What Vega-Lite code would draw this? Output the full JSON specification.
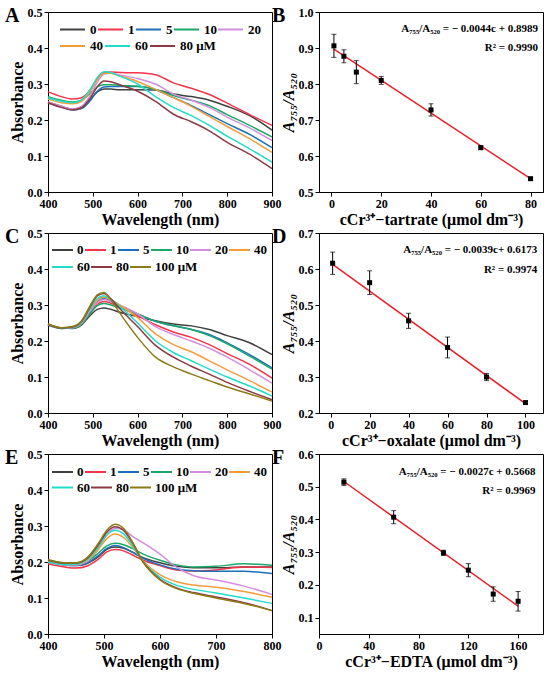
{
  "$schema": "https://vega.github.io/schema/vega-lite/v6.json",
  "padding": {"top": 5, "left": 4, "right": 0, "bottom": 0},
  "background": "white",
  "config": {
    "font": "Liberation Serif",
    "view": {"stroke": "black", "strokeWidth": 1},
    "axis": {
      "grid": false,
      "labelFont": "Liberation Serif",
      "labelFontSize": 12,
      "labelFontWeight": "bold",
      "labelColor": "black",
      "labelFlush": false,
      "labelOverlap": false,
      "labelPadding": 2,
      "titleFont": "Liberation Serif",
      "titleFontSize": 16,
      "titleFontWeight": "bold",
      "titleColor": "black",
      "titlePadding": 2,
      "domainColor": "black",
      "tickColor": "black",
      "tickSize": 4
    },
    "legend": {
      "orient": "none",
      "direction": "horizontal",
      "labelFont": "Liberation Serif",
      "labelFontSize": 13,
      "labelFontWeight": "bold",
      "labelColor": "black",
      "symbolType": "stroke",
      "symbolStrokeWidth": 2,
      "clipHeight": 14,
      "title": null
    },
    "title": {
      "font": "Liberation Serif",
      "fontSize": 20,
      "fontWeight": "bold",
      "color": "black",
      "anchor": "start",
      "frame": "bounds",
      "offset": -20,
      "dx": -4
    },
    "text": {"font": "Liberation Serif", "fontSize": 11, "fontWeight": "bold", "align": "right", "color": "black"}
  },
  "columns": 2,
  "spacing": {"row": 41, "column": 47},
  "bounds": "flush",
  "resolve": {"scale": {"color": "independent", "stroke": "independent"}},
  "datasets": {
    "spectra": [
      {"p":"A","c":"0","w":400,"a":0.250},{"p":"A","c":"0","w":430,"a":0.238},{"p":"A","c":"0","w":455,"a":0.230},{"p":"A","c":"0","w":475,"a":0.236},{"p":"A","c":"0","w":495,"a":0.258},{"p":"A","c":"0","w":510,"a":0.278},{"p":"A","c":"0","w":525,"a":0.286},{"p":"A","c":"0","w":540,"a":0.286},{"p":"A","c":"0","w":560,"a":0.284},{"p":"A","c":"0","w":600,"a":0.284},{"p":"A","c":"0","w":640,"a":0.283},{"p":"A","c":"0","w":680,"a":0.272},{"p":"A","c":"0","w":720,"a":0.265},{"p":"A","c":"0","w":760,"a":0.255},{"p":"A","c":"0","w":800,"a":0.238},{"p":"A","c":"0","w":850,"a":0.212},{"p":"A","c":"0","w":900,"a":0.172},
      {"p":"A","c":"1","w":400,"a":0.278},{"p":"A","c":"1","w":430,"a":0.265},{"p":"A","c":"1","w":455,"a":0.258},{"p":"A","c":"1","w":475,"a":0.262},{"p":"A","c":"1","w":495,"a":0.285},{"p":"A","c":"1","w":510,"a":0.315},{"p":"A","c":"1","w":525,"a":0.332},{"p":"A","c":"1","w":540,"a":0.333},{"p":"A","c":"1","w":560,"a":0.332},{"p":"A","c":"1","w":600,"a":0.331},{"p":"A","c":"1","w":640,"a":0.326},{"p":"A","c":"1","w":680,"a":0.303},{"p":"A","c":"1","w":720,"a":0.288},{"p":"A","c":"1","w":760,"a":0.271},{"p":"A","c":"1","w":800,"a":0.247},{"p":"A","c":"1","w":850,"a":0.215},{"p":"A","c":"1","w":900,"a":0.185},
      {"p":"A","c":"5","w":400,"a":0.248},{"p":"A","c":"5","w":430,"a":0.236},{"p":"A","c":"5","w":455,"a":0.228},{"p":"A","c":"5","w":475,"a":0.232},{"p":"A","c":"5","w":495,"a":0.255},{"p":"A","c":"5","w":510,"a":0.280},{"p":"A","c":"5","w":525,"a":0.292},{"p":"A","c":"5","w":540,"a":0.293},{"p":"A","c":"5","w":560,"a":0.293},{"p":"A","c":"5","w":600,"a":0.293},{"p":"A","c":"5","w":640,"a":0.284},{"p":"A","c":"5","w":680,"a":0.262},{"p":"A","c":"5","w":720,"a":0.240},{"p":"A","c":"5","w":760,"a":0.215},{"p":"A","c":"5","w":800,"a":0.190},{"p":"A","c":"5","w":850,"a":0.160},{"p":"A","c":"5","w":900,"a":0.123},
      {"p":"A","c":"10","w":400,"a":0.265},{"p":"A","c":"10","w":430,"a":0.255},{"p":"A","c":"10","w":455,"a":0.250},{"p":"A","c":"10","w":475,"a":0.255},{"p":"A","c":"10","w":495,"a":0.275},{"p":"A","c":"10","w":510,"a":0.292},{"p":"A","c":"10","w":525,"a":0.298},{"p":"A","c":"10","w":540,"a":0.298},{"p":"A","c":"10","w":560,"a":0.296},{"p":"A","c":"10","w":600,"a":0.294},{"p":"A","c":"10","w":640,"a":0.285},{"p":"A","c":"10","w":680,"a":0.268},{"p":"A","c":"10","w":720,"a":0.255},{"p":"A","c":"10","w":760,"a":0.240},{"p":"A","c":"10","w":800,"a":0.215},{"p":"A","c":"10","w":850,"a":0.185},{"p":"A","c":"10","w":900,"a":0.153},
      {"p":"A","c":"20","w":400,"a":0.250},{"p":"A","c":"20","w":430,"a":0.238},{"p":"A","c":"20","w":455,"a":0.230},{"p":"A","c":"20","w":475,"a":0.238},{"p":"A","c":"20","w":495,"a":0.270},{"p":"A","c":"20","w":510,"a":0.305},{"p":"A","c":"20","w":525,"a":0.328},{"p":"A","c":"20","w":540,"a":0.330},{"p":"A","c":"20","w":560,"a":0.325},{"p":"A","c":"20","w":600,"a":0.315},{"p":"A","c":"20","w":640,"a":0.300},{"p":"A","c":"20","w":680,"a":0.272},{"p":"A","c":"20","w":720,"a":0.255},{"p":"A","c":"20","w":760,"a":0.235},{"p":"A","c":"20","w":800,"a":0.208},{"p":"A","c":"20","w":850,"a":0.178},{"p":"A","c":"20","w":900,"a":0.143},
      {"p":"A","c":"40","w":400,"a":0.258},{"p":"A","c":"40","w":430,"a":0.248},{"p":"A","c":"40","w":455,"a":0.245},{"p":"A","c":"40","w":475,"a":0.252},{"p":"A","c":"40","w":495,"a":0.280},{"p":"A","c":"40","w":510,"a":0.312},{"p":"A","c":"40","w":525,"a":0.330},{"p":"A","c":"40","w":540,"a":0.330},{"p":"A","c":"40","w":560,"a":0.322},{"p":"A","c":"40","w":600,"a":0.307},{"p":"A","c":"40","w":640,"a":0.285},{"p":"A","c":"40","w":680,"a":0.262},{"p":"A","c":"40","w":720,"a":0.238},{"p":"A","c":"40","w":760,"a":0.210},{"p":"A","c":"40","w":800,"a":0.182},{"p":"A","c":"40","w":850,"a":0.148},{"p":"A","c":"40","w":900,"a":0.110},
      {"p":"A","c":"60","w":400,"a":0.262},{"p":"A","c":"60","w":430,"a":0.252},{"p":"A","c":"60","w":455,"a":0.248},{"p":"A","c":"60","w":475,"a":0.256},{"p":"A","c":"60","w":495,"a":0.286},{"p":"A","c":"60","w":510,"a":0.318},{"p":"A","c":"60","w":525,"a":0.334},{"p":"A","c":"60","w":540,"a":0.332},{"p":"A","c":"60","w":560,"a":0.322},{"p":"A","c":"60","w":600,"a":0.300},{"p":"A","c":"60","w":640,"a":0.265},{"p":"A","c":"60","w":680,"a":0.235},{"p":"A","c":"60","w":720,"a":0.212},{"p":"A","c":"60","w":760,"a":0.185},{"p":"A","c":"60","w":800,"a":0.155},{"p":"A","c":"60","w":850,"a":0.120},{"p":"A","c":"60","w":900,"a":0.083},
      {"p":"A","c":"80","w":400,"a":0.248},{"p":"A","c":"80","w":430,"a":0.235},{"p":"A","c":"80","w":455,"a":0.228},{"p":"A","c":"80","w":475,"a":0.234},{"p":"A","c":"80","w":495,"a":0.262},{"p":"A","c":"80","w":510,"a":0.292},{"p":"A","c":"80","w":525,"a":0.308},{"p":"A","c":"80","w":540,"a":0.306},{"p":"A","c":"80","w":560,"a":0.298},{"p":"A","c":"80","w":600,"a":0.280},{"p":"A","c":"80","w":640,"a":0.252},{"p":"A","c":"80","w":680,"a":0.216},{"p":"A","c":"80","w":720,"a":0.195},{"p":"A","c":"80","w":760,"a":0.170},{"p":"A","c":"80","w":800,"a":0.138},{"p":"A","c":"80","w":850,"a":0.105},{"p":"A","c":"80","w":900,"a":0.065},

      {"p":"C","c":"0","w":400,"a":0.245},{"p":"C","c":"0","w":430,"a":0.236},{"p":"C","c":"0","w":455,"a":0.235},{"p":"C","c":"0","w":475,"a":0.245},{"p":"C","c":"0","w":495,"a":0.272},{"p":"C","c":"0","w":510,"a":0.288},{"p":"C","c":"0","w":525,"a":0.292},{"p":"C","c":"0","w":540,"a":0.288},{"p":"C","c":"0","w":560,"a":0.280},{"p":"C","c":"0","w":600,"a":0.268},{"p":"C","c":"0","w":640,"a":0.256},{"p":"C","c":"0","w":680,"a":0.247},{"p":"C","c":"0","w":720,"a":0.242},{"p":"C","c":"0","w":760,"a":0.232},{"p":"C","c":"0","w":800,"a":0.215},{"p":"C","c":"0","w":850,"a":0.195},{"p":"C","c":"0","w":900,"a":0.162},
      {"p":"C","c":"1","w":400,"a":0.245},{"p":"C","c":"1","w":430,"a":0.236},{"p":"C","c":"1","w":455,"a":0.236},{"p":"C","c":"1","w":475,"a":0.248},{"p":"C","c":"1","w":495,"a":0.280},{"p":"C","c":"1","w":510,"a":0.302},{"p":"C","c":"1","w":525,"a":0.310},{"p":"C","c":"1","w":540,"a":0.305},{"p":"C","c":"1","w":560,"a":0.295},{"p":"C","c":"1","w":600,"a":0.270},{"p":"C","c":"1","w":640,"a":0.245},{"p":"C","c":"1","w":680,"a":0.225},{"p":"C","c":"1","w":720,"a":0.210},{"p":"C","c":"1","w":760,"a":0.190},{"p":"C","c":"1","w":800,"a":0.165},{"p":"C","c":"1","w":850,"a":0.135},{"p":"C","c":"1","w":900,"a":0.097},
      {"p":"C","c":"5","w":400,"a":0.244},{"p":"C","c":"5","w":430,"a":0.235},{"p":"C","c":"5","w":455,"a":0.236},{"p":"C","c":"5","w":475,"a":0.250},{"p":"C","c":"5","w":495,"a":0.285},{"p":"C","c":"5","w":510,"a":0.310},{"p":"C","c":"5","w":525,"a":0.318},{"p":"C","c":"5","w":540,"a":0.310},{"p":"C","c":"5","w":560,"a":0.298},{"p":"C","c":"5","w":600,"a":0.275},{"p":"C","c":"5","w":640,"a":0.255},{"p":"C","c":"5","w":680,"a":0.242},{"p":"C","c":"5","w":720,"a":0.232},{"p":"C","c":"5","w":760,"a":0.218},{"p":"C","c":"5","w":800,"a":0.195},{"p":"C","c":"5","w":850,"a":0.162},{"p":"C","c":"5","w":900,"a":0.125},
      {"p":"C","c":"10","w":400,"a":0.246},{"p":"C","c":"10","w":430,"a":0.237},{"p":"C","c":"10","w":455,"a":0.236},{"p":"C","c":"10","w":475,"a":0.247},{"p":"C","c":"10","w":495,"a":0.278},{"p":"C","c":"10","w":510,"a":0.298},{"p":"C","c":"10","w":525,"a":0.304},{"p":"C","c":"10","w":540,"a":0.300},{"p":"C","c":"10","w":560,"a":0.292},{"p":"C","c":"10","w":600,"a":0.275},{"p":"C","c":"10","w":640,"a":0.255},{"p":"C","c":"10","w":680,"a":0.243},{"p":"C","c":"10","w":720,"a":0.232},{"p":"C","c":"10","w":760,"a":0.215},{"p":"C","c":"10","w":800,"a":0.192},{"p":"C","c":"10","w":850,"a":0.158},{"p":"C","c":"10","w":900,"a":0.122},
      {"p":"C","c":"20","w":400,"a":0.245},{"p":"C","c":"20","w":430,"a":0.236},{"p":"C","c":"20","w":455,"a":0.237},{"p":"C","c":"20","w":475,"a":0.250},{"p":"C","c":"20","w":495,"a":0.285},{"p":"C","c":"20","w":510,"a":0.307},{"p":"C","c":"20","w":525,"a":0.315},{"p":"C","c":"20","w":540,"a":0.310},{"p":"C","c":"20","w":560,"a":0.300},{"p":"C","c":"20","w":600,"a":0.275},{"p":"C","c":"20","w":640,"a":0.240},{"p":"C","c":"20","w":680,"a":0.218},{"p":"C","c":"20","w":720,"a":0.200},{"p":"C","c":"20","w":760,"a":0.180},{"p":"C","c":"20","w":800,"a":0.155},{"p":"C","c":"20","w":850,"a":0.120},{"p":"C","c":"20","w":900,"a":0.083},
      {"p":"C","c":"40","w":400,"a":0.246},{"p":"C","c":"40","w":430,"a":0.236},{"p":"C","c":"40","w":455,"a":0.238},{"p":"C","c":"40","w":475,"a":0.252},{"p":"C","c":"40","w":495,"a":0.290},{"p":"C","c":"40","w":510,"a":0.313},{"p":"C","c":"40","w":525,"a":0.322},{"p":"C","c":"40","w":540,"a":0.315},{"p":"C","c":"40","w":560,"a":0.300},{"p":"C","c":"40","w":600,"a":0.265},{"p":"C","c":"40","w":640,"a":0.220},{"p":"C","c":"40","w":680,"a":0.190},{"p":"C","c":"40","w":720,"a":0.170},{"p":"C","c":"40","w":760,"a":0.145},{"p":"C","c":"40","w":800,"a":0.120},{"p":"C","c":"40","w":850,"a":0.090},{"p":"C","c":"40","w":900,"a":0.058},
      {"p":"C","c":"60","w":400,"a":0.245},{"p":"C","c":"60","w":430,"a":0.235},{"p":"C","c":"60","w":455,"a":0.238},{"p":"C","c":"60","w":475,"a":0.253},{"p":"C","c":"60","w":495,"a":0.292},{"p":"C","c":"60","w":510,"a":0.318},{"p":"C","c":"60","w":525,"a":0.326},{"p":"C","c":"60","w":540,"a":0.316},{"p":"C","c":"60","w":560,"a":0.296},{"p":"C","c":"60","w":600,"a":0.250},{"p":"C","c":"60","w":640,"a":0.200},{"p":"C","c":"60","w":680,"a":0.168},{"p":"C","c":"60","w":720,"a":0.145},{"p":"C","c":"60","w":760,"a":0.122},{"p":"C","c":"60","w":800,"a":0.100},{"p":"C","c":"60","w":850,"a":0.075},{"p":"C","c":"60","w":900,"a":0.047},
      {"p":"C","c":"80","w":400,"a":0.246},{"p":"C","c":"80","w":430,"a":0.236},{"p":"C","c":"80","w":455,"a":0.239},{"p":"C","c":"80","w":475,"a":0.255},{"p":"C","c":"80","w":495,"a":0.297},{"p":"C","c":"80","w":510,"a":0.325},{"p":"C","c":"80","w":525,"a":0.332},{"p":"C","c":"80","w":540,"a":0.318},{"p":"C","c":"80","w":560,"a":0.290},{"p":"C","c":"80","w":600,"a":0.240},{"p":"C","c":"80","w":640,"a":0.188},{"p":"C","c":"80","w":680,"a":0.155},{"p":"C","c":"80","w":720,"a":0.130},{"p":"C","c":"80","w":760,"a":0.108},{"p":"C","c":"80","w":800,"a":0.085},{"p":"C","c":"80","w":850,"a":0.060},{"p":"C","c":"80","w":900,"a":0.037},
      {"p":"C","c":"100","w":400,"a":0.248},{"p":"C","c":"100","w":430,"a":0.237},{"p":"C","c":"100","w":455,"a":0.240},{"p":"C","c":"100","w":475,"a":0.256},{"p":"C","c":"100","w":495,"a":0.300},{"p":"C","c":"100","w":510,"a":0.328},{"p":"C","c":"100","w":525,"a":0.335},{"p":"C","c":"100","w":540,"a":0.315},{"p":"C","c":"100","w":560,"a":0.278},{"p":"C","c":"100","w":600,"a":0.210},{"p":"C","c":"100","w":640,"a":0.155},{"p":"C","c":"100","w":680,"a":0.128},{"p":"C","c":"100","w":720,"a":0.108},{"p":"C","c":"100","w":760,"a":0.090},{"p":"C","c":"100","w":800,"a":0.072},{"p":"C","c":"100","w":850,"a":0.053},{"p":"C","c":"100","w":900,"a":0.033},

      {"p":"E","c":"0","w":400,"a":0.200},{"p":"E","c":"0","w":430,"a":0.192},{"p":"E","c":"0","w":450,"a":0.190},{"p":"E","c":"0","w":470,"a":0.196},{"p":"E","c":"0","w":490,"a":0.215},{"p":"E","c":"0","w":505,"a":0.235},{"p":"E","c":"0","w":520,"a":0.242},{"p":"E","c":"0","w":535,"a":0.238},{"p":"E","c":"0","w":550,"a":0.228},{"p":"E","c":"0","w":570,"a":0.212},{"p":"E","c":"0","w":600,"a":0.198},{"p":"E","c":"0","w":630,"a":0.188},{"p":"E","c":"0","w":660,"a":0.184},{"p":"E","c":"0","w":700,"a":0.184},{"p":"E","c":"0","w":750,"a":0.186},{"p":"E","c":"0","w":800,"a":0.186},
      {"p":"E","c":"1","w":400,"a":0.195},{"p":"E","c":"1","w":430,"a":0.186},{"p":"E","c":"1","w":450,"a":0.183},{"p":"E","c":"1","w":470,"a":0.189},{"p":"E","c":"1","w":490,"a":0.208},{"p":"E","c":"1","w":505,"a":0.228},{"p":"E","c":"1","w":520,"a":0.235},{"p":"E","c":"1","w":535,"a":0.231},{"p":"E","c":"1","w":550,"a":0.220},{"p":"E","c":"1","w":570,"a":0.205},{"p":"E","c":"1","w":600,"a":0.190},{"p":"E","c":"1","w":630,"a":0.178},{"p":"E","c":"1","w":660,"a":0.175},{"p":"E","c":"1","w":700,"a":0.178},{"p":"E","c":"1","w":750,"a":0.186},{"p":"E","c":"1","w":800,"a":0.185},
      {"p":"E","c":"5","w":400,"a":0.200},{"p":"E","c":"5","w":430,"a":0.192},{"p":"E","c":"5","w":450,"a":0.190},{"p":"E","c":"5","w":470,"a":0.197},{"p":"E","c":"5","w":490,"a":0.218},{"p":"E","c":"5","w":505,"a":0.238},{"p":"E","c":"5","w":520,"a":0.246},{"p":"E","c":"5","w":535,"a":0.240},{"p":"E","c":"5","w":550,"a":0.228},{"p":"E","c":"5","w":570,"a":0.210},{"p":"E","c":"5","w":600,"a":0.192},{"p":"E","c":"5","w":630,"a":0.180},{"p":"E","c":"5","w":660,"a":0.176},{"p":"E","c":"5","w":700,"a":0.174},{"p":"E","c":"5","w":750,"a":0.174},{"p":"E","c":"5","w":800,"a":0.168},
      {"p":"E","c":"10","w":400,"a":0.205},{"p":"E","c":"10","w":430,"a":0.197},{"p":"E","c":"10","w":450,"a":0.195},{"p":"E","c":"10","w":470,"a":0.202},{"p":"E","c":"10","w":490,"a":0.225},{"p":"E","c":"10","w":505,"a":0.245},{"p":"E","c":"10","w":520,"a":0.252},{"p":"E","c":"10","w":535,"a":0.248},{"p":"E","c":"10","w":550,"a":0.238},{"p":"E","c":"10","w":570,"a":0.222},{"p":"E","c":"10","w":600,"a":0.205},{"p":"E","c":"10","w":630,"a":0.192},{"p":"E","c":"10","w":660,"a":0.186},{"p":"E","c":"10","w":700,"a":0.188},{"p":"E","c":"10","w":750,"a":0.195},{"p":"E","c":"10","w":800,"a":0.191},
      {"p":"E","c":"20","w":400,"a":0.200},{"p":"E","c":"20","w":430,"a":0.192},{"p":"E","c":"20","w":450,"a":0.192},{"p":"E","c":"20","w":470,"a":0.202},{"p":"E","c":"20","w":490,"a":0.238},{"p":"E","c":"20","w":505,"a":0.275},{"p":"E","c":"20","w":520,"a":0.294},{"p":"E","c":"20","w":535,"a":0.290},{"p":"E","c":"20","w":550,"a":0.272},{"p":"E","c":"20","w":570,"a":0.253},{"p":"E","c":"20","w":600,"a":0.222},{"p":"E","c":"20","w":630,"a":0.185},{"p":"E","c":"20","w":660,"a":0.162},{"p":"E","c":"20","w":700,"a":0.150},{"p":"E","c":"20","w":750,"a":0.133},{"p":"E","c":"20","w":800,"a":0.110},
      {"p":"E","c":"40","w":400,"a":0.200},{"p":"E","c":"40","w":430,"a":0.193},{"p":"E","c":"40","w":450,"a":0.193},{"p":"E","c":"40","w":470,"a":0.205},{"p":"E","c":"40","w":490,"a":0.235},{"p":"E","c":"40","w":505,"a":0.265},{"p":"E","c":"40","w":520,"a":0.278},{"p":"E","c":"40","w":535,"a":0.268},{"p":"E","c":"40","w":550,"a":0.243},{"p":"E","c":"40","w":570,"a":0.203},{"p":"E","c":"40","w":600,"a":0.165},{"p":"E","c":"40","w":630,"a":0.145},{"p":"E","c":"40","w":660,"a":0.136},{"p":"E","c":"40","w":700,"a":0.130},{"p":"E","c":"40","w":750,"a":0.118},{"p":"E","c":"40","w":800,"a":0.102},
      {"p":"E","c":"60","w":400,"a":0.200},{"p":"E","c":"60","w":430,"a":0.193},{"p":"E","c":"60","w":450,"a":0.194},{"p":"E","c":"60","w":470,"a":0.207},{"p":"E","c":"60","w":490,"a":0.242},{"p":"E","c":"60","w":505,"a":0.275},{"p":"E","c":"60","w":520,"a":0.288},{"p":"E","c":"60","w":535,"a":0.278},{"p":"E","c":"60","w":550,"a":0.248},{"p":"E","c":"60","w":570,"a":0.200},{"p":"E","c":"60","w":600,"a":0.158},{"p":"E","c":"60","w":630,"a":0.135},{"p":"E","c":"60","w":660,"a":0.124},{"p":"E","c":"60","w":700,"a":0.114},{"p":"E","c":"60","w":750,"a":0.100},{"p":"E","c":"60","w":800,"a":0.085},
      {"p":"E","c":"80","w":400,"a":0.205},{"p":"E","c":"80","w":430,"a":0.197},{"p":"E","c":"80","w":450,"a":0.197},{"p":"E","c":"80","w":470,"a":0.210},{"p":"E","c":"80","w":490,"a":0.248},{"p":"E","c":"80","w":505,"a":0.283},{"p":"E","c":"80","w":520,"a":0.298},{"p":"E","c":"80","w":535,"a":0.288},{"p":"E","c":"80","w":550,"a":0.255},{"p":"E","c":"80","w":570,"a":0.200},{"p":"E","c":"80","w":600,"a":0.152},{"p":"E","c":"80","w":630,"a":0.128},{"p":"E","c":"80","w":660,"a":0.115},{"p":"E","c":"80","w":700,"a":0.103},{"p":"E","c":"80","w":750,"a":0.087},{"p":"E","c":"80","w":800,"a":0.065},
      {"p":"E","c":"100","w":400,"a":0.207},{"p":"E","c":"100","w":430,"a":0.198},{"p":"E","c":"100","w":450,"a":0.198},{"p":"E","c":"100","w":470,"a":0.212},{"p":"E","c":"100","w":490,"a":0.252},{"p":"E","c":"100","w":505,"a":0.288},{"p":"E","c":"100","w":520,"a":0.305},{"p":"E","c":"100","w":535,"a":0.293},{"p":"E","c":"100","w":550,"a":0.258},{"p":"E","c":"100","w":570,"a":0.200},{"p":"E","c":"100","w":600,"a":0.150},{"p":"E","c":"100","w":630,"a":0.126},{"p":"E","c":"100","w":660,"a":0.113},{"p":"E","c":"100","w":700,"a":0.100},{"p":"E","c":"100","w":750,"a":0.085},{"p":"E","c":"100","w":800,"a":0.065}
    ],
    "points": [
      {"p":"B","c":1,"r":0.906,"e":0.032},{"p":"B","c":5,"r":0.877,"e":0.018},{"p":"B","c":10,"r":0.833,"e":0.032},{"p":"B","c":20,"r":0.810,"e":0.011},{"p":"B","c":40,"r":0.728,"e":0.017},{"p":"B","c":60,"r":0.623,"e":0.005},{"p":"B","c":80,"r":0.537,"e":0.003},
      {"p":"D","c":1,"r":0.616,"e":0.031},{"p":"D","c":20,"r":0.562,"e":0.033},{"p":"D","c":40,"r":0.456,"e":0.021},{"p":"D","c":60,"r":0.382,"e":0.029},{"p":"D","c":80,"r":0.300,"e":0.010},{"p":"D","c":100,"r":0.229,"e":0.004},
      {"p":"F","c":20,"r":0.514,"e":0.010},{"p":"F","c":60,"r":0.407,"e":0.020},{"p":"F","c":100,"r":0.298,"e":0.008},{"p":"F","c":120,"r":0.245,"e":0.020},{"p":"F","c":140,"r":0.172,"e":0.022},{"p":"F","c":160,"r":0.150,"e":0.030}
    ],
    "fits": [
      {"p":"B","c":1,"r":0.897},{"p":"B","c":80,"r":0.537},
      {"p":"D","c":1,"r":0.613},{"p":"D","c":100,"r":0.226},
      {"p":"F","c":20,"r":0.516},{"p":"F","c":160,"r":0.135}
    ],
    "notes": [
      {"p":"B","eq":"A₇₅₅/A₅₂₀ = − 0.0044c + 0.8989","r2":"R² = 0.9990"},
      {"p":"D","eq":"A₇₅₅/A₅₂₀ = − 0.0039c+ 0.6173","r2":"R² = 0.9974"},
      {"p":"F","eq":"A₇₅₅/A₅₂₀ = − 0.0027c + 0.5668","r2":"R² = 0.9969"}
    ]
  },
  "concat": [
    {
      "width": 224, "height": 180,
      "title": {"text": "A"},
      "data": {"name": "spectra"},
      "encoding": {
        "x": {"field": "w", "type": "quantitative", "scale": {"domain": [400, 900], "nice": false}, "axis": {"values": [400, 500, 600, 700, 800, 900], "title": "Wavelength (nm)"}},
        "y": {"field": "a", "type": "quantitative", "scale": {"domain": [0, 0.5], "nice": false}, "axis": {"values": [0, 0.1, 0.2, 0.3, 0.4, 0.5], "format": ".1f", "title": "Absorbance"}}
      },
      "layer": [
        {
          "transform": [{"filter": "datum.p == 'A' && indexof(['0','1','5','10','20'], datum.c) >= 0"}],
          "mark": {"type": "line", "interpolate": "monotone", "strokeWidth": 1.5},
          "encoding": {
            "color": {"field": "c", "type": "nominal",
              "scale": {"domain": ["0", "1", "5", "10", "20"], "range": ["#404040", "#f5334a", "#1f6fb8", "#18a868", "#d48ee0"]},
              "legend": {"legendX": 11, "legendY": 10.5, "symbolSize": 625, "labelOffset": 4, "columnPadding": 0}}
          }
        },
        {
          "transform": [{"filter": "datum.p == 'A' && indexof(['40','60','80'], datum.c) >= 0"}],
          "mark": {"type": "line", "interpolate": "monotone", "strokeWidth": 1.5},
          "encoding": {
            "stroke": {"field": "c", "type": "nominal",
              "scale": {"domain": ["40", "60", "80"], "range": ["#f39c3c", "#22dcc8", "#8c3a44"]},
              "legend": {"legendX": 11, "legendY": 27, "symbolSize": 625, "labelOffset": 4, "columnPadding": 1, "labelExpr": "datum.label == '80' ? '80 μM' : datum.label"}}
          }
        }
      ]
    },
    {
      "width": 224, "height": 180,
      "title": {"text": "B", "dx": -8},
      "layer": [
        {
          "data": {"name": "fits"},
          "transform": [{"filter": "datum.p == 'B'"}],
          "mark": {"type": "line", "color": "#e8202a", "strokeWidth": 1.5},
          "encoding": {
            "x": {"field": "c", "type": "quantitative", "scale": {"domain": [-5, 85], "nice": false}, "axis": {"values": [0, 20, 40, 60, 80], "title": "cCr³⁺−tartrate (μmol dm⁻³)"}},
            "y": {"field": "r", "type": "quantitative", "scale": {"domain": [0.5, 1.0], "nice": false, "zero": false}, "axis": {"values": [0.5, 0.6, 0.7, 0.8, 0.9, 1.0], "format": ".1f", "title": "A₇₅₅/A₅₂₀", "titleFontStyle": "italic"}}
          }
        },
        {
          "data": {"name": "points"},
          "transform": [{"filter": "datum.p == 'B'"}],
          "mark": {"type": "errorbar", "ticks": {"size": 5, "color": "black"}, "color": "black"},
          "encoding": {
            "x": {"field": "c", "type": "quantitative", "axis": {"values": [0, 20, 40, 60, 80], "title": "cCr³⁺−tartrate (μmol dm⁻³)"}},
            "y": {"field": "r", "type": "quantitative", "axis": {"values": [0.5, 0.6, 0.7, 0.8, 0.9, 1.0], "format": ".1f", "title": "A₇₅₅/A₅₂₀", "titleFontStyle": "italic"}},
            "yError": {"field": "e"}
          }
        },
        {
          "data": {"name": "points"},
          "transform": [{"filter": "datum.p == 'B'"}],
          "mark": {"type": "square", "size": 25, "color": "black", "opacity": 1},
          "encoding": {
            "x": {"field": "c", "type": "quantitative", "axis": {"values": [0, 20, 40, 60, 80], "title": "cCr³⁺−tartrate (μmol dm⁻³)"}},
            "y": {"field": "r", "type": "quantitative", "axis": {"values": [0.5, 0.6, 0.7, 0.8, 0.9, 1.0], "format": ".1f", "title": "A₇₅₅/A₅₂₀", "titleFontStyle": "italic"}}
          }
        },
        {
          "data": {"name": "notes"},
          "transform": [{"filter": "datum.p == 'B'"}],
          "mark": {"type": "text"},
          "encoding": {
            "text": {"field": "eq"},
            "x": {"datum": 83, "type": "quantitative", "axis": {"values": [0, 20, 40, 60, 80], "title": "cCr³⁺−tartrate (μmol dm⁻³)"}},
            "y": {"datum": 0.952, "type": "quantitative", "axis": {"values": [0.5, 0.6, 0.7, 0.8, 0.9, 1.0], "format": ".1f", "title": "A₇₅₅/A₅₂₀", "titleFontStyle": "italic"}}
          }
        },
        {
          "data": {"name": "notes"},
          "transform": [{"filter": "datum.p == 'B'"}],
          "mark": {"type": "text"},
          "encoding": {
            "text": {"field": "r2"},
            "x": {"datum": 83, "type": "quantitative", "axis": {"values": [0, 20, 40, 60, 80], "title": "cCr³⁺−tartrate (μmol dm⁻³)"}},
            "y": {"datum": 0.901, "type": "quantitative", "axis": {"values": [0.5, 0.6, 0.7, 0.8, 0.9, 1.0], "format": ".1f", "title": "A₇₅₅/A₅₂₀", "titleFontStyle": "italic"}}
          }
        }
      ]
    },
    {
      "width": 224, "height": 180,
      "title": {"text": "C"},
      "data": {"name": "spectra"},
      "encoding": {
        "x": {"field": "w", "type": "quantitative", "scale": {"domain": [400, 900], "nice": false}, "axis": {"values": [400, 500, 600, 700, 800, 900], "title": "Wavelength (nm)"}},
        "y": {"field": "a", "type": "quantitative", "scale": {"domain": [0, 0.5], "nice": false}, "axis": {"values": [0, 0.1, 0.2, 0.3, 0.4, 0.5], "format": ".1f", "title": "Absorbance"}}
      },
      "layer": [
        {
          "transform": [{"filter": "datum.p == 'C' && indexof(['0','1','5','10','20','40'], datum.c) >= 0"}],
          "mark": {"type": "line", "interpolate": "monotone", "strokeWidth": 1.5},
          "encoding": {
            "color": {"field": "c", "type": "nominal",
              "scale": {"domain": ["0", "1", "5", "10", "20", "40"], "range": ["#404040", "#f5334a", "#1f6fb8", "#18a868", "#d48ee0", "#f39c3c"]},
              "legend": {"legendX": 3, "legendY": 10, "symbolSize": 441, "labelOffset": 3, "columnPadding": -1}}
          }
        },
        {
          "transform": [{"filter": "datum.p == 'C' && indexof(['60','80','100'], datum.c) >= 0"}],
          "mark": {"type": "line", "interpolate": "monotone", "strokeWidth": 1.5},
          "encoding": {
            "stroke": {"field": "c", "type": "nominal",
              "scale": {"domain": ["60", "80", "100"], "range": ["#22dcc8", "#8c3a44", "#8c7a14"]},
              "legend": {"legendX": 3, "legendY": 27, "symbolSize": 441, "labelOffset": 3, "columnPadding": 0, "labelExpr": "datum.label == '100' ? '100 μM' : datum.label"}}
          }
        }
      ]
    },
    {
      "width": 224, "height": 180,
      "title": {"text": "D", "dx": -8},
      "layer": [
        {
          "data": {"name": "fits"},
          "transform": [{"filter": "datum.p == 'D'"}],
          "mark": {"type": "line", "color": "#e8202a", "strokeWidth": 1.5},
          "encoding": {
            "x": {"field": "c", "type": "quantitative", "scale": {"domain": [-6, 109], "nice": false}, "axis": {"values": [0, 20, 40, 60, 80, 100], "title": "cCr³⁺−oxalate (μmol dm⁻³)"}},
            "y": {"field": "r", "type": "quantitative", "scale": {"domain": [0.2, 0.7], "nice": false, "zero": false}, "axis": {"values": [0.2, 0.3, 0.4, 0.5, 0.6, 0.7], "format": ".1f", "title": "A₇₅₅/A₅₂₀", "titleFontStyle": "italic"}}
          }
        },
        {
          "data": {"name": "points"},
          "transform": [{"filter": "datum.p == 'D'"}],
          "mark": {"type": "errorbar", "ticks": {"size": 5, "color": "black"}, "color": "black"},
          "encoding": {
            "x": {"field": "c", "type": "quantitative", "axis": {"values": [0, 20, 40, 60, 80, 100], "title": "cCr³⁺−oxalate (μmol dm⁻³)"}},
            "y": {"field": "r", "type": "quantitative", "axis": {"values": [0.2, 0.3, 0.4, 0.5, 0.6, 0.7], "format": ".1f", "title": "A₇₅₅/A₅₂₀", "titleFontStyle": "italic"}},
            "yError": {"field": "e"}
          }
        },
        {
          "data": {"name": "points"},
          "transform": [{"filter": "datum.p == 'D'"}],
          "mark": {"type": "square", "size": 25, "color": "black", "opacity": 1},
          "encoding": {
            "x": {"field": "c", "type": "quantitative", "axis": {"values": [0, 20, 40, 60, 80, 100], "title": "cCr³⁺−oxalate (μmol dm⁻³)"}},
            "y": {"field": "r", "type": "quantitative", "axis": {"values": [0.2, 0.3, 0.4, 0.5, 0.6, 0.7], "format": ".1f", "title": "A₇₅₅/A₅₂₀", "titleFontStyle": "italic"}}
          }
        },
        {
          "data": {"name": "notes"},
          "transform": [{"filter": "datum.p == 'D'"}],
          "mark": {"type": "text"},
          "encoding": {
            "text": {"field": "eq"},
            "x": {"datum": 106, "type": "quantitative", "axis": {"values": [0, 20, 40, 60, 80, 100], "title": "cCr³⁺−oxalate (μmol dm⁻³)"}},
            "y": {"datum": 0.652, "type": "quantitative", "axis": {"values": [0.2, 0.3, 0.4, 0.5, 0.6, 0.7], "format": ".1f", "title": "A₇₅₅/A₅₂₀", "titleFontStyle": "italic"}}
          }
        },
        {
          "data": {"name": "notes"},
          "transform": [{"filter": "datum.p == 'D'"}],
          "mark": {"type": "text"},
          "encoding": {
            "text": {"field": "r2"},
            "x": {"datum": 106, "type": "quantitative", "axis": {"values": [0, 20, 40, 60, 80, 100], "title": "cCr³⁺−oxalate (μmol dm⁻³)"}},
            "y": {"datum": 0.598, "type": "quantitative", "axis": {"values": [0.2, 0.3, 0.4, 0.5, 0.6, 0.7], "format": ".1f", "title": "A₇₅₅/A₅₂₀", "titleFontStyle": "italic"}}
          }
        }
      ]
    },
    {
      "width": 224, "height": 180,
      "title": {"text": "E"},
      "data": {"name": "spectra"},
      "encoding": {
        "x": {"field": "w", "type": "quantitative", "scale": {"domain": [400, 800], "nice": false}, "axis": {"values": [400, 500, 600, 700, 800], "title": "Wavelength (nm)"}},
        "y": {"field": "a", "type": "quantitative", "scale": {"domain": [0, 0.5], "nice": false}, "axis": {"values": [0, 0.1, 0.2, 0.3, 0.4, 0.5], "format": ".1f", "title": "Absorbance"}}
      },
      "layer": [
        {
          "transform": [{"filter": "datum.p == 'E' && indexof(['0','1','5','10','20','40'], datum.c) >= 0"}],
          "mark": {"type": "line", "interpolate": "monotone", "strokeWidth": 1.5},
          "encoding": {
            "color": {"field": "c", "type": "nominal",
              "scale": {"domain": ["0", "1", "5", "10", "20", "40"], "range": ["#404040", "#f5334a", "#1f6fb8", "#18a868", "#d48ee0", "#f39c3c"]},
              "legend": {"legendX": 3, "legendY": 11, "symbolSize": 441, "labelOffset": 3, "columnPadding": -1}}
          }
        },
        {
          "transform": [{"filter": "datum.p == 'E' && indexof(['60','80','100'], datum.c) >= 0"}],
          "mark": {"type": "line", "interpolate": "monotone", "strokeWidth": 1.5},
          "encoding": {
            "stroke": {"field": "c", "type": "nominal",
              "scale": {"domain": ["60", "80", "100"], "range": ["#22dcc8", "#8c3a44", "#8c7a14"]},
              "legend": {"legendX": 3, "legendY": 26.5, "symbolSize": 441, "labelOffset": 3, "columnPadding": 0, "labelExpr": "datum.label == '100' ? '100 μM' : datum.label"}}
          }
        }
      ]
    },
    {
      "width": 224, "height": 180,
      "title": {"text": "F", "dx": -8},
      "layer": [
        {
          "data": {"name": "fits"},
          "transform": [{"filter": "datum.p == 'F'"}],
          "mark": {"type": "line", "color": "#e8202a", "strokeWidth": 1.5},
          "encoding": {
            "x": {"field": "c", "type": "quantitative", "scale": {"domain": [0, 180], "nice": false}, "axis": {"values": [0, 40, 80, 120, 160], "title": "cCr³⁺−EDTA (μmol dm⁻³)"}},
            "y": {"field": "r", "type": "quantitative", "scale": {"domain": [0.05, 0.6], "nice": false, "zero": false}, "axis": {"values": [0.1, 0.2, 0.3, 0.4, 0.5, 0.6], "format": ".1f", "title": "A₇₅₅/A₅₂₀", "titleFontStyle": "italic"}}
          }
        },
        {
          "data": {"name": "points"},
          "transform": [{"filter": "datum.p == 'F'"}],
          "mark": {"type": "errorbar", "ticks": {"size": 5, "color": "black"}, "color": "black"},
          "encoding": {
            "x": {"field": "c", "type": "quantitative", "axis": {"values": [0, 40, 80, 120, 160], "title": "cCr³⁺−EDTA (μmol dm⁻³)"}},
            "y": {"field": "r", "type": "quantitative", "axis": {"values": [0.1, 0.2, 0.3, 0.4, 0.5, 0.6], "format": ".1f", "title": "A₇₅₅/A₅₂₀", "titleFontStyle": "italic"}},
            "yError": {"field": "e"}
          }
        },
        {
          "data": {"name": "points"},
          "transform": [{"filter": "datum.p == 'F'"}],
          "mark": {"type": "square", "size": 25, "color": "black", "opacity": 1},
          "encoding": {
            "x": {"field": "c", "type": "quantitative", "axis": {"values": [0, 40, 80, 120, 160], "title": "cCr³⁺−EDTA (μmol dm⁻³)"}},
            "y": {"field": "r", "type": "quantitative", "axis": {"values": [0.1, 0.2, 0.3, 0.4, 0.5, 0.6], "format": ".1f", "title": "A₇₅₅/A₅₂₀", "titleFontStyle": "italic"}}
          }
        },
        {
          "data": {"name": "notes"},
          "transform": [{"filter": "datum.p == 'F'"}],
          "mark": {"type": "text"},
          "encoding": {
            "text": {"field": "eq"},
            "x": {"datum": 174, "type": "quantitative", "axis": {"values": [0, 40, 80, 120, 160], "title": "cCr³⁺−EDTA (μmol dm⁻³)"}},
            "y": {"datum": 0.545, "type": "quantitative", "axis": {"values": [0.1, 0.2, 0.3, 0.4, 0.5, 0.6], "format": ".1f", "title": "A₇₅₅/A₅₂₀", "titleFontStyle": "italic"}}
          }
        },
        {
          "data": {"name": "notes"},
          "transform": [{"filter": "datum.p == 'F'"}],
          "mark": {"type": "text"},
          "encoding": {
            "text": {"field": "r2"},
            "x": {"datum": 174, "type": "quantitative", "axis": {"values": [0, 40, 80, 120, 160], "title": "cCr³⁺−EDTA (μmol dm⁻³)"}},
            "y": {"datum": 0.486, "type": "quantitative", "axis": {"values": [0.1, 0.2, 0.3, 0.4, 0.5, 0.6], "format": ".1f", "title": "A₇₅₅/A₅₂₀", "titleFontStyle": "italic"}}
          }
        }
      ]
    }
  ]
}
